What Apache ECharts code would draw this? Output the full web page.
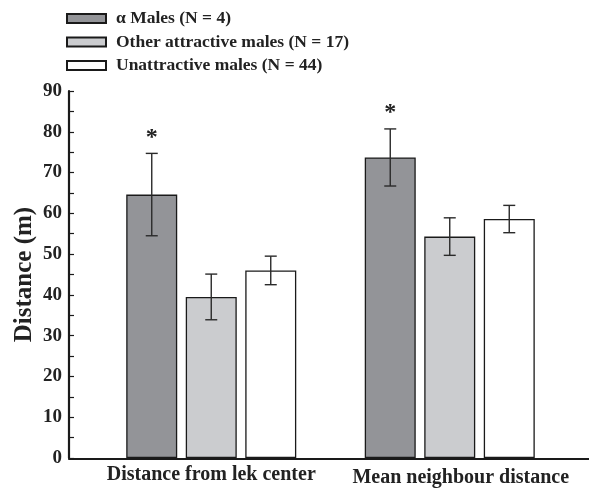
<!DOCTYPE html>
<html>
<head>
<meta charset="utf-8">
<script src="https://cdn.jsdelivr.net/npm/echarts@6/dist/echarts.min.js"></script>
<style>html,body{margin:0;padding:0;background:#fff;}#c{width:589px;height:488px;}</style>
</head>
<body>
<div id="c"></div>
<script>
const categories = ['Distance from lek center', 'Mean neighbour distance'];
const seriesNames = ['\u03b1 Males (N = 4)', 'Other attractive males (N = 17)', 'Unattractive males (N = 44)'];
const alphaMeans = [64.6, 73.7];
const alphaErr = [10.1, 7.0];
const otherMeans = [39.5, 54.3];
const otherErr = [5.6, 4.6];
const unattrMeans = [46.0, 58.6];
const unattrErr = [3.5, 3.35];
const alphaSig = ['*', '*'];
const noSig = ['', ''];
const yMin = 0, yMax = 90, yStep = 10;

const FONT = '"Liberation Serif", "Times New Roman", serif';
const BAR_W = 51, GAP = 8.5;
const colors = ['#939498', '#cbcccf', '#ffffff'];
const labelPads = [[0, 0, 0, 0], [3, 0, 0, 22]];

const means = [alphaMeans, otherMeans, unattrMeans];
const errs = [alphaErr, otherErr, unattrErr];
const sigs = [alphaSig, noSig, noSig];

const chart = echarts.init(document.getElementById('c'), null, {renderer: 'canvas'});

const barSeries = seriesNames.map((name, i) => ({
  name: name,
  type: 'bar',
  xAxisIndex: 0, yAxisIndex: 0,
  barWidth: BAR_W,
  barGap: (GAP / BAR_W * 100).toFixed(1) + '%',
  data: means[i],
  itemStyle: {color: colors[i], borderColor: '#1a1a1a', borderWidth: 1.3},
  emphasis: {disabled: true},
  z: 2
}));

const errSeries = seriesNames.map((name, i) => ({
  name: 'err' + i,
  type: 'custom',
  xAxisIndex: 0, yAxisIndex: 0,
  data: means[i].map((m, k) => [k, m, errs[i][k], sigs[i][k]]),
  encode: {x: 0, y: 1},
  z: 5,
  silent: true,
  renderItem: function (params, api) {
    const off = (i - 1) * (BAR_W + GAP);
    const cat = api.value(0), m = api.value(1), e = api.value(2);
    const x = api.coord([cat, m])[0] + off;
    const yt = api.coord([cat, m + e])[1];
    const yb = api.coord([cat, m - e])[1];
    const cap = 6;
    const st = {stroke: '#2a2a2a', lineWidth: 1.4};
    const children = [
      {type: 'line', shape: {x1: x, y1: yt, x2: x, y2: yb}, style: st},
      {type: 'line', shape: {x1: x - cap, y1: yt, x2: x + cap, y2: yt}, style: st},
      {type: 'line', shape: {x1: x - cap, y1: yb, x2: x + cap, y2: yb}, style: st}
    ];
    const s = sigs[i][params.dataIndex];
    if (s) {
      children.push({type: 'text', style: {text: s, x: x, y: yt - 4, align: 'center', verticalAlign: 'bottom',
        font: 'bold 24px ' + FONT, fill: '#222'}});
    }
    return {type: 'group', children: children};
  }
}));

chart.setOption({
  animation: false,
  backgroundColor: '#fff',
  legend: {
    data: seriesNames,
    orient: 'vertical',
    left: 66, top: 9.5,
    padding: 0,
    itemWidth: 39, itemHeight: 9,
    itemGap: 5.5,
    icon: 'rect',
    textStyle: {fontFamily: FONT, fontWeight: 'bold', fontSize: 17.5, color: '#222', lineHeight: 18, padding: [0,0,0,5]},
    selectedMode: false
  },
  grid: [
    {left: 92, right: 20, top: 91, bottom: 29, containLabel: false},
    {left: 69, right: 0, top: 91, bottom: 29, containLabel: false}
  ],
  xAxis: [
    {type: 'category', gridIndex: 0,
      data: categories.map((c, k) => ({value: c, textStyle: {padding: labelPads[k]}})),
      axisLine: {show: false}, axisTick: {show: false},
      axisLabel: {interval: 0, fontFamily: FONT, fontWeight: 'bold', fontSize: 20, color: '#222', margin: 7}},
    {type: 'value', gridIndex: 1, min: 0, max: 1,
      axisLine: {show: true, lineStyle: {color: '#1a1a1a', width: 2.2}},
      axisTick: {show: false}, axisLabel: {show: false}, splitLine: {show: false}}
  ],
  yAxis: [
    {type: 'value', gridIndex: 0, min: yMin, max: yMax, interval: yStep, offset: 23,
      name: 'Distance (m)', nameLocation: 'middle', nameGap: 32, nameMoveOverlap: false,
      nameTextStyle: {fontFamily: FONT, fontWeight: 'bold', fontSize: 25, color: '#222'},
      axisLine: {show: true, lineStyle: {color: '#1a1a1a', width: 2.2}},
      axisTick: {show: true, inside: true, length: 5, lineStyle: {color: '#1a1a1a', width: 1.2}},
      minorTick: {show: true, splitNumber: 2, length: 5, lineStyle: {color: '#1a1a1a', width: 1.2}},
      axisLabel: {fontFamily: FONT, fontWeight: 'bold', fontSize: 19, color: '#222', margin: 7},
      splitLine: {show: false}},
    {type: 'value', gridIndex: 1, min: 0, max: 1, show: false}
  ],
  series: barSeries.concat(errSeries)
});
</script>
</body>
</html>
